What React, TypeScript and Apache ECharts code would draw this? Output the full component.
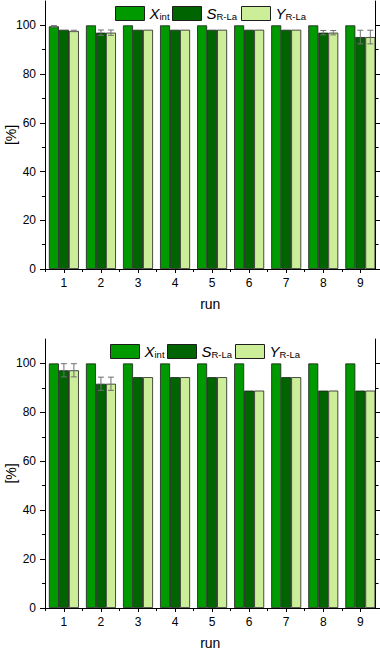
import React, { useEffect, useRef } from "react";
import * as echarts from "echarts";

// ---------- data ----------
const runs = [1, 2, 3, 4, 5, 6, 7, 8, 9];
const runBoundaries = [0.5, 1.5, 2.5, 3.5, 4.5, 5.5, 6.5, 7.5, 8.5];
const yMajorTicks = [0, 20, 40, 60, 80, 100];
const yMinorTicks = [10, 30, 50, 70, 90];

const seriesNames = ["Xint", "SR-La", "YR-La"];

// top panel
const topXint = [99.6, 100, 100, 100, 100, 100, 100, 100, 100];
const topSRLa = [98.2, 97.0, 98.2, 98.2, 98.2, 98.2, 98.2, 97.0, 95.2];
const topYRLa = [97.7, 97.0, 98.2, 98.2, 98.2, 98.2, 98.2, 97.0, 95.2];
const topXintErr = [0.3, 0, 0, 0, 0, 0, 0, 0, 0];
const topSRLaErr = [0, 1.1, 0, 0, 0, 0, 0, 0.9, 2.8];
const topYRLaErr = [0.3, 1.1, 0, 0, 0, 0, 0, 0.9, 2.8];

// bottom panel
const botXint = [100, 100, 100, 100, 100, 100, 100, 100, 100];
const botSRLa = [97.2, 91.7, 94.4, 94.4, 94.4, 88.9, 94.4, 88.9, 88.9];
const botYRLa = [97.2, 91.7, 94.4, 94.4, 94.4, 88.9, 94.4, 88.9, 88.9];
const botXintErr = [0, 0, 0, 0, 0, 0, 0, 0, 0];
const botSRLaErr = [2.7, 2.7, 0, 0, 0, 0, 0, 0, 0];
const botYRLaErr = [2.7, 2.7, 0, 0, 0, 0, 0, 0, 0];

// ---------- style ----------
const COLORS = ["#009900", "#006400", "#ccee99"];
const BORDER = "#1e1e1e";
const ERR_COLOR = "#707070";
const BAR_W = 10;
const FONT = "Liberation Sans";
const X_MIN = 0.49;
const X_MAX = 9.41;

const labelRich = {
  m: { fontFamily: FONT, fontSize: 15, fontStyle: "italic", color: "#000", lineHeight: 15, verticalAlign: "top" },
  s: { fontFamily: FONT, fontSize: 9.5, color: "#000", lineHeight: 10, verticalAlign: "bottom" },
};
const legendText: Record<string, string> = {
  Xint: "{m|X}{s|int}",
  "SR-La": "{m|S}{s|R-La}",
  "YR-La": "{m|Y}{s|R-La}",
};

function buildPanel(
  gi: number,
  grid: { top: number; height: number },
  values: number[][],
  errors: number[][],
  legendLeft: number[],
  legendTop: number
) {
  const axisLine = { show: true, lineStyle: { color: "#000", width: 1 } };
  const noLine = { show: false };
  const xAxes = [
    {
      type: "value",
      gridIndex: gi,
      position: "bottom",
      min: X_MIN,
      max: X_MAX,
      name: "run",
      nameLocation: "middle",
      nameGap: 28,
      nameTextStyle: { fontFamily: FONT, fontSize: 14, color: "#000" },
      axisLine,
      axisTick: { show: true, inside: false, length: 4, customValues: runs, lineStyle: { color: "#000" } },
      axisLabel: { show: true, customValues: runs, margin: 8, fontFamily: FONT, fontSize: 12, color: "#000" },
      splitLine: { show: false },
    },
    {
      type: "value",
      gridIndex: gi,
      position: "bottom",
      min: X_MIN,
      max: X_MAX,
      axisLine: noLine,
      axisTick: { show: true, inside: false, length: 3, customValues: runBoundaries, lineStyle: { color: "#000" } },
      axisLabel: { show: false },
      splitLine: { show: false },
    },
    {
      type: "value",
      gridIndex: gi,
      position: "top",
      min: X_MIN,
      max: X_MAX,
      axisLine,
      axisTick: { show: true, inside: true, length: 4, customValues: runs, lineStyle: { color: "#000" } },
      axisLabel: { show: false },
      splitLine: { show: false },
    },
    {
      type: "value",
      gridIndex: gi,
      position: "top",
      min: X_MIN,
      max: X_MAX,
      axisLine: noLine,
      axisTick: { show: true, inside: true, length: 3, customValues: runBoundaries, lineStyle: { color: "#000" } },
      axisLabel: { show: false },
      splitLine: { show: false },
    },
  ];
  const yAxes = [
    {
      type: "value",
      gridIndex: gi,
      position: "left",
      min: 0,
      max: 110,
      name: "[%]",
      nameLocation: "middle",
      nameGap: 27,
      nameMoveOverlap: false,
      nameTextStyle: { fontFamily: FONT, fontSize: 14, color: "#000" },
      axisLine,
      axisTick: { show: true, inside: false, length: 5, customValues: yMajorTicks, lineStyle: { color: "#000" } },
      axisLabel: { show: true, customValues: yMajorTicks, margin: 9, fontFamily: FONT, fontSize: 12, color: "#000" },
      splitLine: { show: false },
    },
    {
      type: "value",
      gridIndex: gi,
      position: "left",
      min: 0,
      max: 110,
      axisLine: noLine,
      axisTick: { show: true, inside: false, length: 3, customValues: yMinorTicks, lineStyle: { color: "#000" } },
      axisLabel: { show: false },
      splitLine: { show: false },
    },
    {
      type: "value",
      gridIndex: gi,
      position: "right",
      min: 0,
      max: 110,
      axisLine,
      axisTick: { show: true, inside: false, length: 5, customValues: yMajorTicks, lineStyle: { color: "#000" } },
      axisLabel: { show: false },
      splitLine: { show: false },
    },
    {
      type: "value",
      gridIndex: gi,
      position: "right",
      min: 0,
      max: 110,
      axisLine: noLine,
      axisTick: { show: true, inside: false, length: 3, customValues: yMinorTicks, lineStyle: { color: "#000" } },
      axisLabel: { show: false },
      splitLine: { show: false },
    },
  ];
  const xi = gi * 4;
  const yi = gi * 4;
  const bars = seriesNames.map((name, k) => ({
    type: "bar",
    name,
    xAxisIndex: xi,
    yAxisIndex: yi,
    barWidth: BAR_W,
    barGap: "0%",
    data: runs.map((r, i) => [r, values[k][i]]),
    itemStyle: { color: COLORS[k], borderColor: BORDER, borderWidth: 0.8 },
    z: 2,
  }));
  const errs = seriesNames.map((name, k) => ({
    type: "custom",
    name: name + "-err",
    xAxisIndex: xi,
    yAxisIndex: yi,
    z: 5,
    silent: true,
    encode: { x: 0, y: 1 },
    data: runs.map((r, i) => [r, values[k][i], errors[k][i]]),
    renderItem: (params: any, api: any) => {
      const x = api.value(0);
      const y = api.value(1);
      const e = api.value(2);
      if (!e) return null;
      const off = (k - 1) * BAR_W;
      const t = api.coord([x, y + e]);
      const b = api.coord([x, y - e]);
      const cx = t[0] + off;
      const cap = 3;
      const style = { stroke: ERR_COLOR, lineWidth: 1 };
      return {
        type: "group",
        children: [
          { type: "line", shape: { x1: cx, y1: t[1], x2: cx, y2: b[1] }, style },
          { type: "line", shape: { x1: cx - cap, y1: t[1], x2: cx + cap, y2: t[1] }, style },
          { type: "line", shape: { x1: cx - cap, y1: b[1], x2: cx + cap, y2: b[1] }, style },
        ],
      };
    },
  }));
  const legends = seriesNames.map((name, k) => ({
    show: true,
    left: legendLeft[k],
    top: legendTop,
    padding: 0,
    itemWidth: 29,
    itemHeight: 14,
    itemGap: 0,
    selectedMode: false,
    data: [{ name, icon: "rect" }],
    formatter: (n: string) => legendText[n],
    textStyle: { fontFamily: FONT, fontSize: 15, color: "#000", rich: labelRich },
    itemStyle: { borderColor: BORDER, borderWidth: 1 },
  }));
  const gridOpt = {
    left: 45,
    width: 330.5,
    top: grid.top,
    height: grid.height,
    show: false,
    outerBoundsMode: "none",
    containLabel: false,
  };
  return { xAxes, yAxes, series: [...bars, ...errs], legends, gridOpt };
}

export default function App() {
  const ref = useRef<HTMLDivElement>(null);
  useEffect(() => {
    if (!ref.current) return;
    const chart = echarts.init(ref.current, undefined, { renderer: "svg" });
    const p0 = buildPanel(
      0,
      { top: 1, height: 268 },
      [topXint, topSRLa, topYRLa],
      [topXintErr, topSRLaErr, topYRLaErr],
      [115, 172, 241],
      6
    );
    const p1 = buildPanel(
      1,
      { top: 339, height: 269 },
      [botXint, botSRLa, botYRLa],
      [botXintErr, botSRLaErr, botYRLaErr],
      [110, 167, 235],
      344
    );
    chart.setOption({
      animation: false,
      backgroundColor: "#fff",
      textStyle: { fontFamily: FONT },
      grid: [p0.gridOpt, p1.gridOpt],
      xAxis: [...p0.xAxes, ...p1.xAxes],
      yAxis: [...p0.yAxes, ...p1.yAxes],
      legend: [...p0.legends, ...p1.legends],
      series: [...p0.series, ...p1.series],
    });
    return () => chart.dispose();
  }, []);
  return (
    <div
      ref={ref}
      style={{ position: "absolute", left: 0, top: 0, width: 380, height: 651 }}
    />
  );
}
